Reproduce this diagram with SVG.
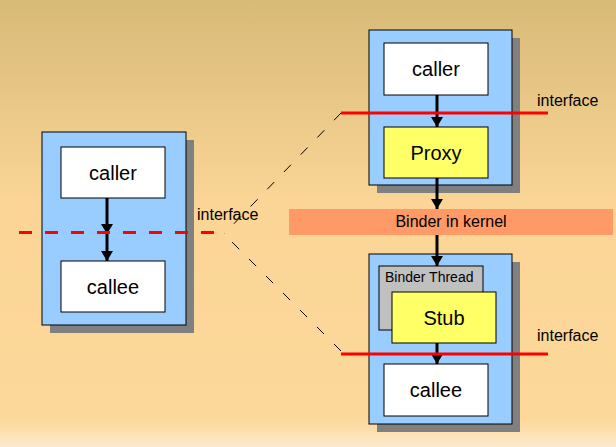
<svg xmlns="http://www.w3.org/2000/svg" width="616" height="447" viewBox="0 0 616 447">
<defs>
<linearGradient id="bg" x1="0" y1="0" x2="0" y2="1">
<stop offset="0" stop-color="#d8ba77"/>
<stop offset="0.45" stop-color="#fad596"/>
<stop offset="0.94" stop-color="#fcd89a"/>
<stop offset="1" stop-color="#fdeacd"/>
</linearGradient>
<marker id="ah" markerWidth="12" markerHeight="12" refX="10" refY="6" orient="auto" markerUnits="userSpaceOnUse">
<path d="M0,0 L10,6 L0,12 Z" fill="#000"/>
</marker>
</defs>
<style>
.shadow{fill:#808080}
.proc{fill:#99ccff;stroke:#000;stroke-width:1}
.white{fill:#fff;stroke:#000;stroke-width:1}
.yellow{fill:#ffff66;stroke:#000;stroke-width:1}
.gray{fill:#c0c0c0;stroke:#000;stroke-width:1}
.big{font-family:"Liberation Sans",Arial,sans-serif;font-size:20px;fill:#000;text-anchor:middle}
.lbl{font-family:"Liberation Sans",Arial,sans-serif;font-size:16px;fill:#000}
.small{font-family:"Liberation Sans",Arial,sans-serif;font-size:14px;fill:#000}
.arrow{stroke:#000;stroke-width:3;fill:none;marker-end:url(#ah)}
.dash{fill:none;stroke:#000;stroke-width:1;stroke-dasharray:10,14}
</style>
<rect width="616" height="447" fill="url(#bg)"/>

<g id="left-process">
<rect class="shadow" x="50" y="140" width="144" height="193"/>
<rect class="proc" x="42" y="132" width="144" height="193"/>
</g>
<g id="left-caller">
<rect class="white" x="61" y="147" width="104" height="51"/>
<text class="big" x="113" y="180">caller</text>
</g>
<g id="left-callee">
<rect class="white" x="61" y="261" width="104" height="51"/>
<text class="big" x="113" y="294">callee</text>
</g>

<g id="top-process">
<rect class="shadow" x="377" y="38" width="143" height="155"/>
<rect class="proc" x="369" y="30" width="143" height="155"/>
</g>
<g id="top-caller">
<rect class="white" x="384" y="43" width="104" height="52"/>
<text class="big" x="436" y="76">caller</text>
</g>
<g id="proxy">
<rect class="yellow" x="384" y="127" width="104" height="51"/>
<text class="big" x="436" y="160">Proxy</text>
</g>

<g id="binder-kernel">
<rect x="289" y="209" width="324" height="26" fill="#ff9966"/>
<text class="lbl" x="451" y="227" text-anchor="middle">Binder in kernel</text>
</g>

<g id="bottom-process">
<rect class="shadow" x="377" y="262" width="143" height="170"/>
<rect class="proc" x="369" y="254" width="143" height="170"/>
</g>
<g id="binder-thread">
<rect class="gray" x="379" y="266" width="104" height="64"/>
<text class="small" x="385" y="282">Binder Thread</text>
</g>
<g id="stub">
<rect class="yellow" x="392" y="292" width="104" height="51"/>
<text class="big" x="444" y="325">Stub</text>
</g>
<g id="bottom-callee">
<rect class="white" x="384" y="364" width="104" height="52"/>
<text class="big" x="436" y="397">callee</text>
</g>

<g id="connectors">
<line class="arrow" x1="107" y1="198" x2="107" y2="234"/>
<line class="arrow" x1="107" y1="232" x2="107" y2="261"/>
<line class="arrow" x1="437" y1="95" x2="437" y2="127"/>
<line class="arrow" x1="437" y1="178" x2="437" y2="209"/>
<line class="arrow" x1="437" y1="235" x2="437" y2="266"/>
<line class="arrow" x1="437" y1="343" x2="437" y2="364"/>
<line x1="19" y1="232.5" x2="217" y2="232.5" stroke="#ff0000" stroke-width="3" stroke-dasharray="13,13"/>
<line x1="341" y1="113" x2="548" y2="113" stroke="#ff0000" stroke-width="3"/>
<line x1="341" y1="354" x2="548" y2="354" stroke="#ff0000" stroke-width="3"/>
<line class="dash" x1="341" y1="113" x2="224" y2="234"/>
<line class="dash" x1="341" y1="351" x2="224" y2="234"/>
</g>

<g id="labels">
<text class="lbl" x="197" y="220">interface</text>
<text class="lbl" x="537" y="106">interface</text>
<text class="lbl" x="537" y="341">interface</text>
</g>
</svg>
